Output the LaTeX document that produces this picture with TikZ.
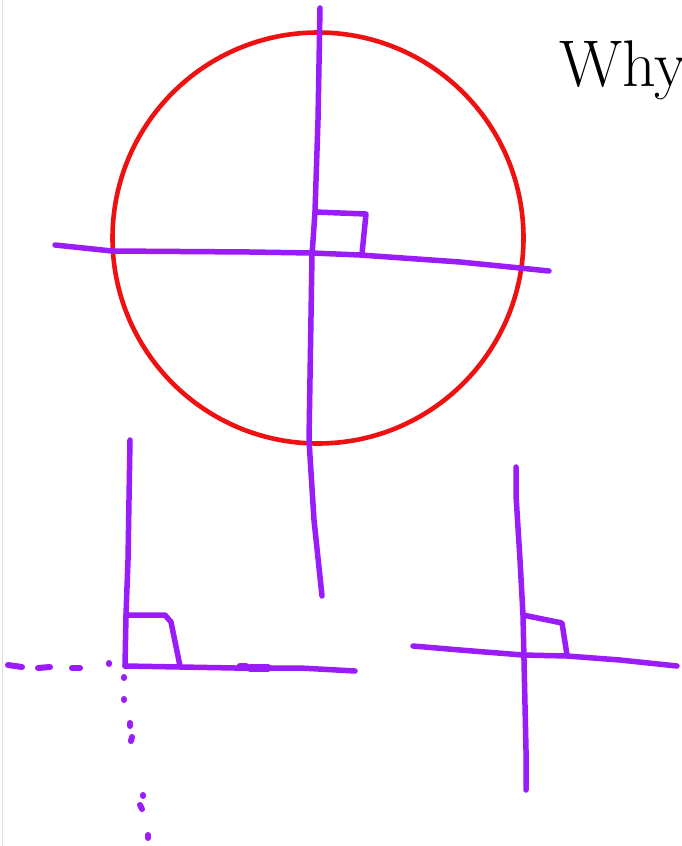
\documentclass[tikz,border=0pt]{standalone}
\usepackage{xcolor}
\usepackage{tikz}
\definecolor{ink}{HTML}{9A1CFA}
\definecolor{ringred}{HTML}{EE1111}
\tikzset{
  pen/.style   ={draw=ink,line width=5.5pt,line cap=round,line join=round},
  ring/.style  ={draw=ringred,line width=4.6pt},
  dot/.style   ={draw=ink,line width=6pt,line cap=round}
}
\begin{document}
\begin{tikzpicture}[x=1pt,y=-1pt]
    \useasboundingbox[fill=white] (0,0) rectangle (682,846);
    \draw[gray!25,line width=1pt] (2,0) -- (2,846);
    % title
    \node[anchor=base west,inner sep=0pt,font=\fontsize{66}{74}\selectfont] (why) at (559,86) {Why};
    % circle with two perpendicular lines
    \draw[ring] (318,238) circle[radius=205.5];
    \draw[pen] (320,8) -- (318,120) -- (315,212) -- (312,255) -- (309,440) -- (314,520) -- (322,596);
    \draw[pen] (55,245) -- (112,251) -- (250,252) -- (312,253) -- (360,255) -- (460,262) -- (520,268) -- (549,271);
    \draw[pen] (315,212) -- (366,214) -- (362,254);
    % bottom left: corner with dotted extensions
    \draw[pen] (130,440) -- (128,560) -- (126,615) -- (125,666);
    \draw[pen] (126,615) -- (165,615) -- (171,622) -- (180,666);
    \draw[pen] (125,666) -- (180,667) -- (235,668) -- (300,668) -- (355,671);
    \draw[pen,line width=7pt] (240,666) -- (246,666);
    \draw[pen,line width=8pt] (250,668) -- (268,668);
    \foreach \xa/\ya/\xb/\yb in {8/665/22/667, 38/668/50/667, 72/668/80/668, 109/663/109/664,
                                 124/677/124/678, 124/699/124/700, 130/723/130/726, 132/737/131/741,
                                 143/795/143/796, 140/805/142/809, 148/835/148/838}
      \draw[dot] (\xa,\ya) -- (\xb,\yb);
    % bottom right: crossing lines
    \draw[pen] (516,467) -- (516,495) -- (520,560) -- (523,615) -- (524,660) -- (526,750) -- (526,790);
    \draw[pen] (413,646) -- (460,650) -- (523,655) -- (567,656) -- (620,660) -- (677,666);
    \draw[pen] (523,615) -- (562,623) -- (567,655);
\end{tikzpicture}
\end{document}
